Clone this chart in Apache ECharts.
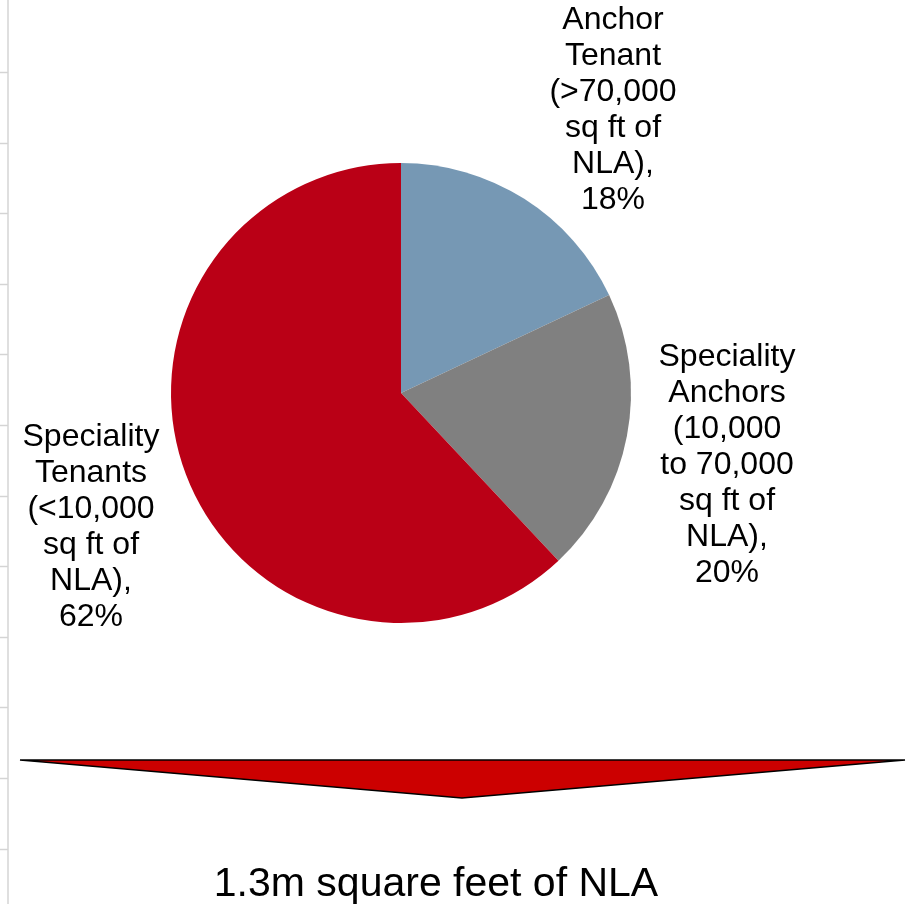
<!DOCTYPE html>
<html>
<head>
<meta charset="utf-8">
<script src="https://cdn.jsdelivr.net/npm/echarts@6/dist/echarts.min.js"></script>
<style>
  html, body { margin: 0; padding: 0; background: #fff; }
  #main { width: 908px; height: 904px; }
</style>
</head>
<body>
<div id="main"></div>
<script>
// categories (line breaks as in the original labels)
const categories = [
    'Anchor\nTenant\n(>70,000\nsq ft of\nNLA)',
    'Speciality\nAnchors\n(10,000\nto 70,000\nsq ft of\nNLA)',
    'Speciality\nTenants\n(<10,000\nsq ft of\nNLA)'
];
const shares = [18, 20, 62];
const colors = ['#7698B4', '#808080', '#BA0016'];
const footnote = '1.3m square feet of NLA';

// where each label block sits (centre of text)
const labelPos = [[613, 110], [727, 465], [91, 527]];

let chart = echarts.init(document.getElementById('main'));

// faint axis remnant on the left edge
let edge = [{
    type: 'line',
    shape: { x1: 8, y1: 0, x2: 8, y2: 904 },
    style: { stroke: '#d4d4d4', lineWidth: 1.5 }
}];
for (let y = 72; y < 904; y += 70.6) {
    edge.push({
        type: 'line',
        shape: { x1: 0, y1: Math.round(y) + 0.5, x2: 8, y2: Math.round(y) + 0.5 },
        style: { stroke: '#d4d4d4', lineWidth: 1.5 }
    });
}

let option = {
    backgroundColor: '#fff',
    animation: false,
    series: [
        {
            type: 'pie',
            center: [401, 393],
            radius: 230,
            startAngle: 90,
            clockwise: true,
            data: categories.map((c, i) => ({
                name: c,
                value: shares[i],
                itemStyle: { color: colors[i] }
            })),
            itemStyle: { borderWidth: 0 },
            label: {
                show: true,
                formatter: '{b},\n{c}%',
                fontFamily: 'Liberation Sans',
                fontSize: 32,
                lineHeight: 36,
                color: '#000',
                align: 'center',
                overflow: 'none',
                edgeDistance: 0
            },
            labelLine: { show: false },
            labelLayout: function (p) {
                return {
                    x: labelPos[p.dataIndex][0],
                    y: labelPos[p.dataIndex][1],
                    align: 'center',
                    verticalAlign: 'middle'
                };
            },
            emphasis: { disabled: true }
        }
    ],
    graphic: edge.concat([
        {
            type: 'polygon',
            shape: { points: [[20, 760], [905, 760], [462, 798]] },
            style: { fill: '#CC0000', stroke: '#000', lineWidth: 1.5 }
        },
        {
            type: 'text',
            x: 436,
            y: 885,
            style: {
                text: footnote,
                fontFamily: 'Liberation Sans',
                fontSize: 41,
                fill: '#000',
                textAlign: 'center',
                textVerticalAlign: 'middle'
            }
        }
    ])
};

chart.setOption(option);
</script>
</body>
</html>
